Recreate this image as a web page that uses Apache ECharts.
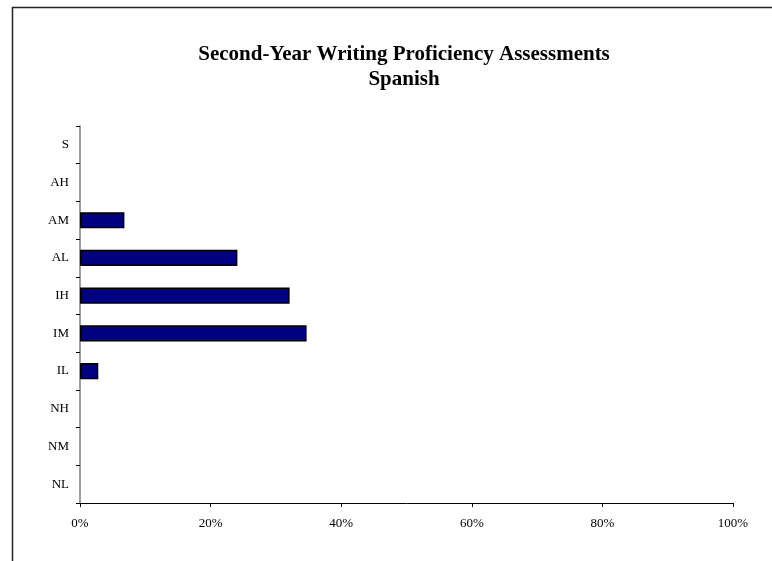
<!DOCTYPE html>
<html>
<head>
<meta charset="utf-8">
<script src="https://cdn.jsdelivr.net/npm/echarts@6/dist/echarts.min.js"></script>
<style>
  html, body { margin: 0; padding: 0; background: #fff; }
  #chart { width: 772px; height: 561px; }
</style>
</head>
<body>
<div id="chart"></div>
<script>
// Proficiency levels, bottom to top
const levels = ['NL', 'NM', 'NH', 'IL', 'IM', 'IH', 'AL', 'AM', 'AH', 'S'];
// Share of students at each level (percent)
const shares = [0, 0, 0, 2.8, 34.7, 32.1, 24.1, 6.8, 0, 0];
const xTicks = [0, 20, 40, 60, 80, 100];

const serif = '"Liberation Serif", "Times New Roman", serif';
const chart = echarts.init(document.getElementById('chart'), null, { renderer: 'canvas' });

// Empty levels get no outline so nothing is drawn for them
const barData = shares.map(v => v === 0
  ? { value: v, itemStyle: { borderWidth: 0 } }
  : { value: v });

chart.setOption({
  animation: false,
  backgroundColor: '#ffffff',
  title: {
    text: 'Second-Year Writing Proficiency Assessments\nSpanish',
    left: 399,
    top: 37,
    textAlign: 'center',
    textStyle: {
      fontFamily: serif,
      fontWeight: 'bold',
      fontSize: 21,
      lineHeight: 25,
      color: '#000'
    }
  },
  graphic: [
    {
      type: 'polyline',
      shape: { points: [[12.5, 561], [12.5, 7.5], [772, 7.5]] },
      style: { stroke: '#222', lineWidth: 1.5, fill: null },
      silent: true
    }
  ],
  grid: { left: 80, right: 39, top: 126, bottom: 58, containLabel: false },
  xAxis: {
    type: 'value',
    min: xTicks[0],
    max: xTicks[xTicks.length - 1],
    interval: 20,
    axisLine: { show: true, lineStyle: { color: '#000', width: 1 } },
    axisTick: { show: true, inside: false, length: 4, lineStyle: { color: '#000' } },
    splitLine: { show: false },
    axisLabel: {
      margin: 14,
      fontFamily: serif,
      fontSize: 13,
      color: '#000',
      formatter: v => v + '%'
    }
  },
  yAxis: {
    type: 'category',
    data: levels,
    boundaryGap: true,
    axisLine: { show: true, lineStyle: { color: '#808080', width: 1.5 } },
    axisTick: { show: true, inside: false, length: 4, lineStyle: { color: '#000' } },
    axisLabel: {
      margin: 11,
      fontFamily: serif,
      fontSize: 13,
      color: '#000'
    },
    splitLine: { show: false }
  },
  series: [
    {
      type: 'bar',
      data: barData,
      barWidth: '43%',
      itemStyle: { color: '#000080', borderColor: '#000', borderWidth: 1.5 }
    }
  ]
});
</script>
</body>
</html>
